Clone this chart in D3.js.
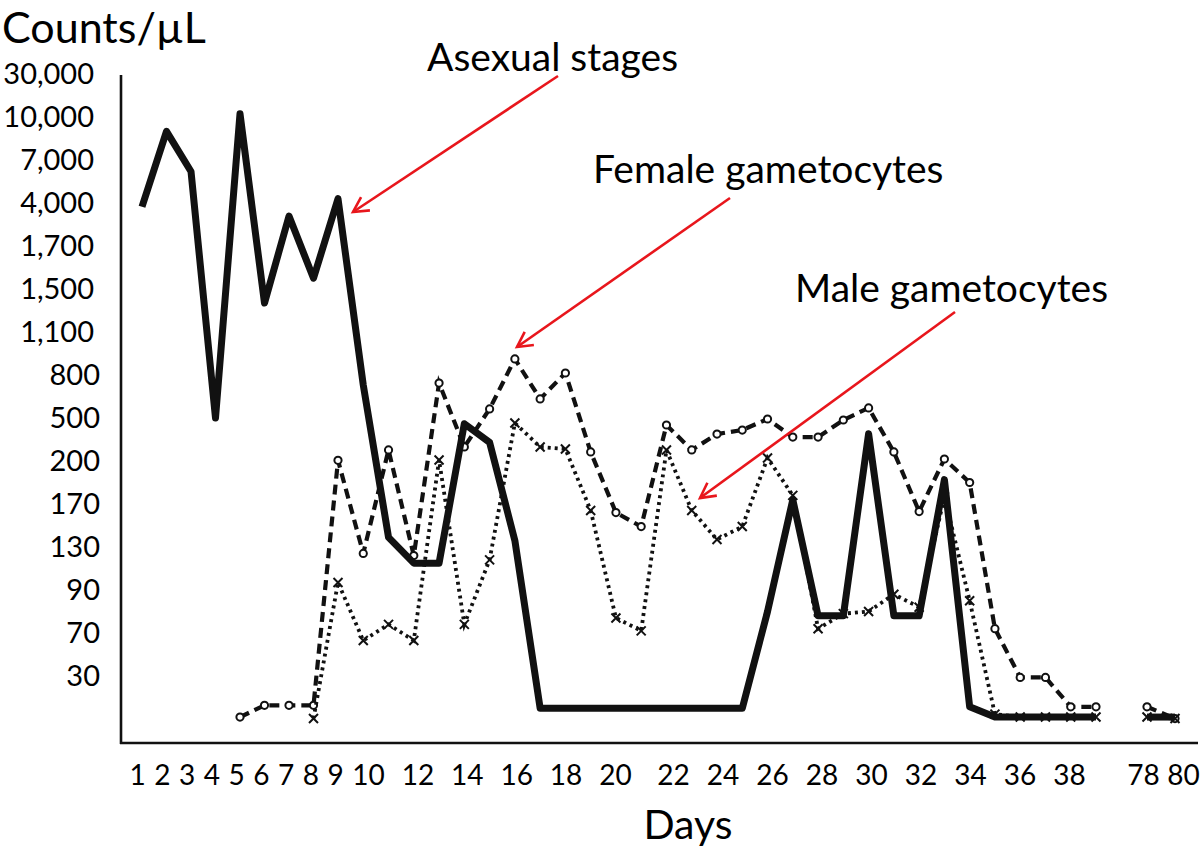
<!DOCTYPE html>
<html>
<head>
<meta charset="utf-8">
<script src="https://cdn.jsdelivr.net/npm/d3@7"></script>
<style>
  html, body { margin: 0; padding: 0; background: #fff; }
  svg { display: block; }
  text { font-family: Lato, "Open Sans", sans-serif; fill: #000; }
</style>
</head>
<body>
<svg id="chart" width="1200" height="849"></svg>
<script>
// ---------------- data ----------------
const days = [1,2,3,4,5,6,7,8,9,10,11,12,13,14,15,16,17,18,19,20,21,22,23,24,25,26,27,28,29,30,31,32,33,34,35,36,37,38,39,78,80];

const asexual = [3800, 9000, 6200, 500, 11500, 1370, 3300, 1550, 4300, 730,
  139, 115, 115, 460, 330, 136, 8, 8, 8, 8,
  8, 8, 8, 8, 8, 80, 173, 78, 78, 390,
  78, 78, 187, 9, 2, 2, 2, 2, 2, 2, 2];

const female = [null, null, null, null, 2, 10, 10, 10, 205, 124,
  277, 122, 744, 298, 563, 912, 633, 814, 263, 162,
  149, 451, 277, 388, 416, 493, 367, 367, 486, 570,
  263, 163, 214, 185, 72, 29, 29, 9, 9, 9, 1];

const male = [null, null, null, null, null, null, null, 1, 97, 63,
  74, 63, 207, 74, 118, 465, 298, 284, 164, 77,
  71, 277, 164, 137, 149, 221, 176, 72, 79, 80,
  88, 82, 175, 85, 4, 2, 2, 2, 2, 2, 1];

const yTicks = [30, 70, 90, 130, 170, 200, 500, 800, 1100, 1500, 1700, 4000, 7000, 10000, 30000];
const xTicks = [1,2,3,4,5,6,7,8,9,10,12,14,16,18,20,22,24,26,28,30,32,34,36,38,78,80];

const annotations = [
  { text: "Asexual stages",     tx: 427, ty: 71,  x1: 558, y1: 76,  x2: 353, y2: 212 },
  { text: "Female gametocytes", tx: 593, ty: 183, x1: 730, y1: 198, x2: 517, y2: 347 },
  { text: "Male gametocytes",   tx: 795, ty: 302, x1: 955, y1: 312, x2: 700, y2: 498 }
];

// ---------------- layout ----------------
const svg = d3.select("#chart");
const axisX0 = 121, axisYTop = 75, axisYBottom = 743, axisXRight = 1198;
const tickTop = 74, tickStep = 43;

// equally spaced category-like value axis (piecewise linear)
const yDomain = [0].concat(yTicks);
const yRange = [720].concat(yTicks.map((_, i) => tickTop + tickStep * (yTicks.length - 1 - i)));
const y = d3.scaleLinear().domain(yDomain).range(yRange);

// data positions along the day axis
const x = d3.scaleLinear().domain([1, 9, 39, 78, 80]).range([142, 338, 1096, 1147, 1175]);
// printed day labels (placed as in the original figure, slightly irregular)
const xLabel = d3.scaleLinear().domain([1, 9, 10, 20, 22, 38, 78, 80])
  .range([137, 335, 368, 615, 673, 1069, 1143, 1183]);

// ---------------- axes ----------------
const yAxis = svg.append("g")
  .attr("transform", `translate(${axisX0},0)`)
  .call(d3.axisLeft(y).tickValues(yTicks).tickSize(0).tickPadding(21).tickFormat(d3.format(",")));
yAxis.select(".domain").remove();
yAxis.selectAll("text")
  .attr("font-family", "Lato, 'Open Sans', sans-serif")
  .attr("font-size", 29)
  .attr("dx", d => d >= 1000 ? -6 : 0);

const xAxis = svg.append("g")
  .attr("transform", `translate(0,${axisYBottom})`)
  .call(d3.axisBottom(xLabel).tickValues(xTicks).tickSize(0).tickPadding(22).tickFormat(d3.format("d")));
xAxis.select(".domain").remove();
xAxis.selectAll("text")
  .attr("font-family", "Lato, 'Open Sans', sans-serif")
  .attr("font-size", 28);

svg.append("line").attr("x1", axisX0).attr("x2", axisX0).attr("y1", axisYTop).attr("y2", axisYBottom + 1)
  .attr("stroke", "#111").attr("stroke-width", 2.6);
svg.append("line").attr("x1", axisX0 - 1).attr("x2", axisXRight).attr("y1", axisYBottom).attr("y2", axisYBottom)
  .attr("stroke", "#111").attr("stroke-width", 2.6);

// titles
svg.append("text").attr("x", 2).attr("y", 43).attr("font-size", 43).text("Counts/µL");
svg.append("text").attr("x", 688).attr("y", 839).attr("text-anchor", "middle").attr("font-size", 41).text("Days");

// ---------------- series ----------------
function segments(values) {
  const pts = days.map((d, i) => ({ d, v: values[i] })).filter(p => p.v != null);
  const segs = [];
  let cur = [];
  pts.forEach((p, i) => {
    if (i > 0 && p.d - pts[i - 1].d > 5) { segs.push(cur); cur = []; }
    cur.push(p);
  });
  if (cur.length) segs.push(cur);
  return segs;
}
const line = d3.line().x(p => x(p.d)).y(p => y(p.v));

// female: dashed with open circle markers
const fg = svg.append("g");
segments(female).forEach(seg => {
  fg.append("path").attr("d", line(seg)).attr("fill", "none")
    .attr("stroke", "#111").attr("stroke-width", 4.2).attr("stroke-dasharray", "10,6");
});
fg.selectAll("circle").data(days.map((d, i) => ({ d, v: female[i] })).filter(p => p.v != null))
  .join("circle").attr("cx", p => x(p.d)).attr("cy", p => y(p.v)).attr("r", 3.6)
  .attr("fill", "#fff").attr("stroke", "#111").attr("stroke-width", 2);

// male: dotted with x markers
const mg = svg.append("g");
segments(male).forEach(seg => {
  mg.append("path").attr("d", line(seg)).attr("fill", "none")
    .attr("stroke", "#111").attr("stroke-width", 3.8).attr("stroke-dasharray", "3,4");
});
const mpts = days.map((d, i) => ({ d, v: male[i] })).filter(p => p.v != null);
mg.selectAll("path.mk").data(mpts).join("path").attr("class", "mk")
  .attr("d", p => { const cx = x(p.d), cy = y(p.v), s = 4.5;
    return `M${cx - s},${cy - s}L${cx + s},${cy + s}M${cx - s},${cy + s}L${cx + s},${cy - s}`; })
  .attr("stroke", "#111").attr("stroke-width", 2).attr("fill", "none");

// asexual: thick solid
const ag = svg.append("g");
segments(asexual).forEach(seg => {
  ag.append("path").attr("d", line(seg)).attr("fill", "none")
    .attr("stroke", "#111").attr("stroke-width", 7).attr("stroke-linejoin", "round").attr("stroke-linecap", "butt");
});

// ---------------- annotations ----------------
const defs = svg.append("defs");
defs.append("marker").attr("id", "arrow").attr("viewBox", "-16 -10 20 20")
  .attr("markerWidth", 20).attr("markerHeight", 20).attr("markerUnits", "userSpaceOnUse")
  .attr("refX", 0).attr("refY", 0).attr("orient", "auto")
  .append("path").attr("d", "M-15,-8L0,0L-15,8").attr("fill", "none")
  .attr("stroke", "#e8161c").attr("stroke-width", 2.6).attr("stroke-linejoin", "miter");

const an = svg.append("g");
annotations.forEach(a => {
  an.append("text").attr("x", a.tx).attr("y", a.ty).attr("font-size", 39).text(a.text);
  an.append("line").attr("x1", a.x1).attr("y1", a.y1).attr("x2", a.x2).attr("y2", a.y2)
    .attr("stroke", "#e8161c").attr("stroke-width", 2.6).attr("marker-end", "url(#arrow)");
});
</script>
</body>
</html>
